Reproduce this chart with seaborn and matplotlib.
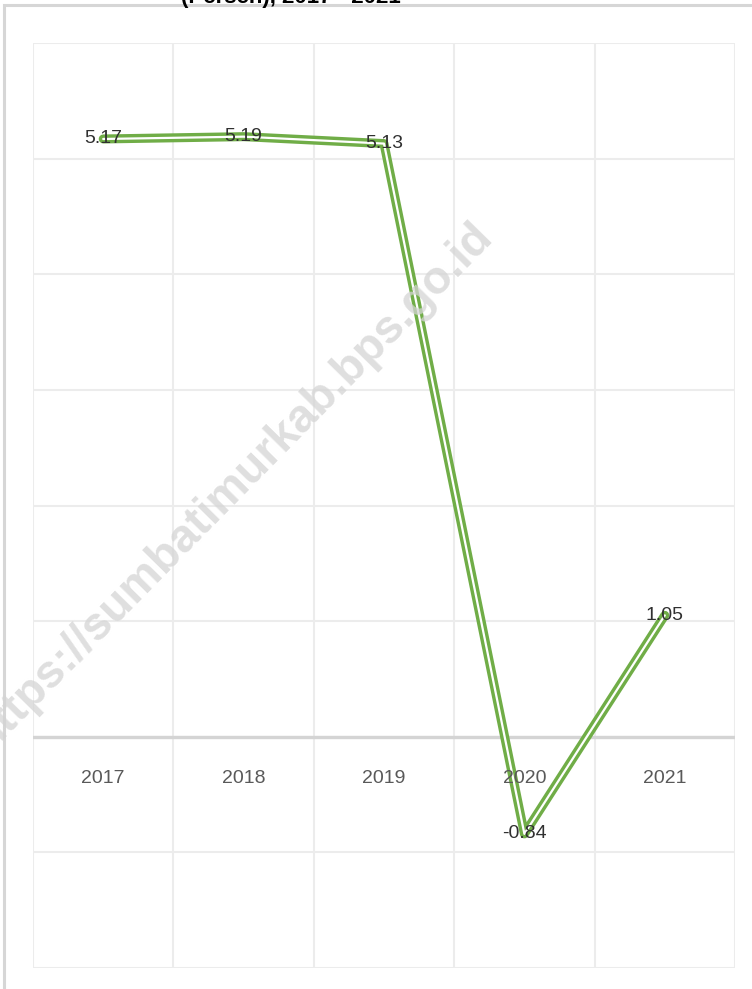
import pandas as pd
import matplotlib.pyplot as plt
import matplotlib.patheffects as pe
from matplotlib.patches import Rectangle
import seaborn as sns

# data
years = ['2017', '2018', '2019', '2020', '2021']
growth = [5.17, 5.19, 5.13, -0.84, 1.05]
title_text = '(Persen), 2017 - 2021'
watermark = 'https://sumbatimurkab.bps.go.id'

df = pd.DataFrame({'pos': range(len(years)), 'year': years, 'growth': growth})

sns.set_style('white')
plt.rcParams['font.family'] = ['Liberation Sans', 'DejaVu Sans']

green = '#70ad47'

fig = plt.figure(figsize=(7.52, 9.89), dpi=100)
ax = fig.add_axes([33 / 752, 1 - 968 / 989, 702 / 752, 925 / 989])

# chart frame (cut at right and bottom)
fig.patches.append(Rectangle((4 / 752, -0.1), 1.2, 1.1 - 5 / 989, transform=fig.transFigure,
                             fill=False, edgecolor='#d6d6d6', lw=2.2, zorder=0))
# title, mostly cut off by the top edge
fig.text(291 / 752, 1 - 2.5 / 989, title_text, ha='center', va='baseline',
         fontsize=16, fontweight='bold', color='black')

# double green line
sns.lineplot(data=df, x='pos', y='growth', ax=ax, color='white', lw=1.6,
             path_effects=[pe.Stroke(linewidth=6.5, foreground=green), pe.Normal()],
             zorder=4)

ax.set_xlim(-0.5, len(years) - 0.5)
ax.set_ylim(-2, 6)
ax.set_yticks(range(-2, 7))
ax.set_xticks([i - 0.5 for i in range(len(years) + 1)], minor=True)
ax.set_xticks([])
ax.grid(True, which='major', axis='y', color='#ececec', lw=1.5)
ax.grid(True, which='minor', axis='x', color='#ececec', lw=1.5)
ax.tick_params(which='both', length=0, labelleft=False, labelbottom=False)
ax.axhline(0, color='#d4d4d4', lw=2.4, zorder=2)
for s in ax.spines.values():
    s.set_visible(False)
ax.set_xlabel('')
ax.set_ylabel('')

# category labels just below the zero line
for i, yr in enumerate(years):
    ax.text(i, -0.36, yr, ha='center', va='center', fontsize=14, color='#595959', zorder=5)

# data labels centred on points
for i, v in enumerate(growth):
    ax.text(i, v, f'{v:.2f}', ha='center', va='center', fontsize=14, color='#303030', zorder=6)

# watermark
fig.text(233 / 752, 1 - 486 / 989, watermark, rotation=45.5, rotation_mode='anchor',
         ha='center', va='center', fontsize=33.5, fontweight='bold', color='#d4d4d4',
         alpha=0.75, zorder=10)

fig.savefig('out.png', dpi=100)
